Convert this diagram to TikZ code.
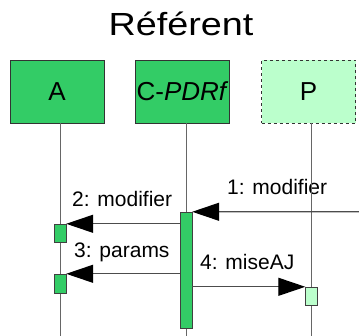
\documentclass[tikz,border=0pt]{standalone}
\usepackage{fontspec}
\setmainfont{Liberation Sans}
\usepackage{graphicx}
\usetikzlibrary{arrows.meta}
\usetikzlibrary{positioning}
\definecolor{actgreen}{HTML}{33CC66}
\definecolor{palegreen}{HTML}{BBFFCC}

\begin{document}
\begin{tikzpicture}[x=1pt, y=-1pt,
    role_box/.style={rectangle, draw=black!80, fill=actgreen, minimum width=94pt, minimum height=63pt, inner sep=0pt, font=\fontsize{26}{30}\selectfont},
    act_bar/.style={rectangle, draw=black!75, fill=actgreen, minimum width=12pt, inner sep=0pt},
    life_line/.style={draw=black!60, line width=1pt},
    msg/.style={-{Triangle[length=27pt,width=18pt,color=black]}, draw=black!70, line width=1.2pt},
    msg_text/.style={anchor=base west, inner sep=0pt, font=\fontsize{21}{24}\selectfont}
]
    \useasboundingbox (0,0) rectangle (359,336);

    % Title
    \node (title) [anchor=base, inner sep=0pt, font=\fontsize{32}{36}\selectfont] at (181,36) {\scalebox{1.18}[1]{Référent}};

    % Roles
    \node (A) [role_box] at (57,91.5) {A};
    \node (C) [role_box] at (182.5,91.5) {C-\textit{PDRf}};
    \node (P) [role_box, dashed, fill=palegreen] at (308.5,91.5) {P};

    % Messages text
    \node (l1) [msg_text] at (227,194.3) {1: modifier};
    \node (l2) [msg_text] at (72,206.7) {2: modifier};
    \node (l3) [msg_text] at (74,257.7) {3: params};
    \node (l4) [msg_text] at (200,269.3) {4: miseAJ};

    % Lifelines
    \coordinate (endA) at (60,336);
    \coordinate (endC) at (186,336);
    \coordinate (endP) at (311.5,336);
    \draw[life_line] (A.south -| endA) -- (endA);
    \draw[life_line] (C.south -| endC) -- (endC);
    \draw[life_line] (P.south -| endP) -- (endP);

    % Activations
    \node (actC) [act_bar, minimum height=116pt] at (186,270) {};
    \node (actA1) [act_bar, minimum height=18pt] at (60,233) {};
    \node (actA2) [act_bar, minimum height=19pt] at (60,283.5) {};
    \node (actP) [act_bar, minimum height=18pt, fill=palegreen] at (311.5,296) {};

    % Messages
    \coordinate (gate) at (359,211.7);
    \draw[msg] (gate) -- (actC.north east);
    \draw[msg] (actA1.north east -| actC.west) -- (actA1.north east);
    \draw[msg] (actA2.north east -| actC.west) -- (actA2.north east);
    \draw[msg] (actP.north west -| actC.east) -- (actP.north west);

\end{tikzpicture}
\end{document}
